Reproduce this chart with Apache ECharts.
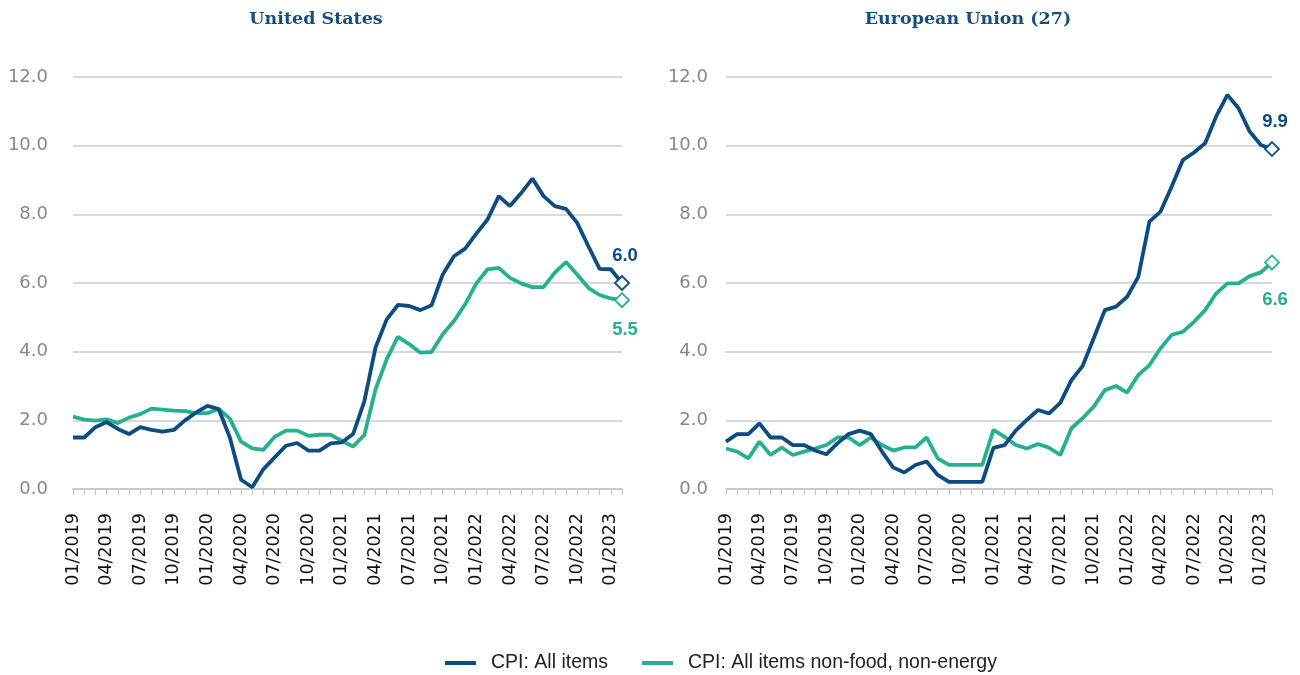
<!DOCTYPE html>
<html>
<head>
<meta charset="utf-8">
<title>CPI: United States vs European Union</title>
<script src="https://cdn.jsdelivr.net/npm/echarts@6/dist/echarts.min.js"></script>
<style>
  html, body { margin: 0; padding: 0; background: #fff; }
  #chart { width: 1300px; height: 675px; }
</style>
</head>
<body>
<div id="chart"></div>
<script>
// months 01/2019 .. 02/2023
var months = [
    '01/2019', '02/2019', '03/2019', '04/2019', '05/2019', '06/2019', '07/2019', '08/2019', '09/2019', '10/2019', '11/2019', '12/2019',
    '01/2020', '02/2020', '03/2020', '04/2020', '05/2020', '06/2020', '07/2020', '08/2020', '09/2020', '10/2020', '11/2020', '12/2020',
    '01/2021', '02/2021', '03/2021', '04/2021', '05/2021', '06/2021', '07/2021', '08/2021', '09/2021', '10/2021', '11/2021', '12/2021',
    '01/2022', '02/2022', '03/2022', '04/2022', '05/2022', '06/2022', '07/2022', '08/2022', '09/2022', '10/2022', '11/2022', '12/2022',
    '01/2023', '02/2023'
];

var usAll = [
    1.5, 1.5, 1.8, 1.95, 1.75, 1.6, 1.8, 1.72, 1.67, 1.72, 2.0, 2.23,
    2.42, 2.33, 1.5, 0.27, 0.05, 0.58, 0.92, 1.26, 1.34, 1.12, 1.12, 1.33,
    1.36, 1.6, 2.55, 4.12, 4.94, 5.36, 5.33, 5.21, 5.35, 6.25, 6.78, 7.0,
    7.44, 7.85, 8.53, 8.24, 8.62, 9.04, 8.53, 8.24, 8.16, 7.75, 7.07, 6.41,
    6.4, 6.0
];
var usCore = [
    2.11, 2.02, 1.99, 2.03, 1.92, 2.08, 2.18, 2.34, 2.31, 2.28, 2.27, 2.21,
    2.21, 2.33, 2.05, 1.38, 1.18, 1.14, 1.52, 1.7, 1.7, 1.55, 1.58, 1.58,
    1.4, 1.24, 1.57, 2.9, 3.78, 4.43, 4.22, 3.97, 3.99, 4.51, 4.89, 5.38,
    5.99, 6.4, 6.44, 6.15, 5.99, 5.88, 5.88, 6.3, 6.61, 6.25, 5.86, 5.65,
    5.55, 5.5
];

var euAll = [
    1.38, 1.6, 1.6, 1.91, 1.5, 1.5, 1.28, 1.28, 1.12, 1.01, 1.33, 1.6,
    1.7, 1.6, 1.09, 0.63, 0.48, 0.7, 0.8, 0.41, 0.21, 0.21, 0.21, 0.21,
    1.2, 1.28, 1.7, 2.01, 2.3, 2.2, 2.51, 3.17, 3.58, 4.39, 5.21, 5.31,
    5.6, 6.18, 7.79, 8.08, 8.81, 9.58, 9.8, 10.07, 10.86, 11.48, 11.09, 10.41,
    10.02, 9.9
];
var euCore = [
    1.18, 1.09, 0.89, 1.38, 0.99, 1.21, 0.99, 1.09, 1.18, 1.28, 1.5, 1.5,
    1.28, 1.5, 1.28, 1.12, 1.21, 1.21, 1.5, 0.89, 0.7, 0.7, 0.7, 0.7,
    1.72, 1.52, 1.28, 1.18, 1.31, 1.2, 0.99, 1.77, 2.06, 2.4, 2.88, 3.0,
    2.81, 3.32, 3.61, 4.1, 4.49, 4.58, 4.87, 5.21, 5.7, 5.99, 5.99, 6.2,
    6.31, 6.6
];

var panelTitles = ['United States', 'European Union (27)'];
var seriesNames = ['CPI: All items', 'CPI: All items non-food, non-energy'];

var BLUE = '#0b4c82';
var GREEN = '#25b18d';
var FONT = '"Liberation Sans", Arial, sans-serif';
var WIDE = '"DejaVu Sans", sans-serif';

// only the last point gets a hollow diamond and a value label
function withEndMarker(values, color, labelPos, labelDist) {
    return values.map(function (v, i) {
        if (i < values.length - 1) return v;
        return {
            value: v,
            symbol: 'diamond',
            symbolSize: 14,
            itemStyle: { color: '#fff', borderColor: color, borderWidth: 1.8 },
            label: {
                show: true,
                position: labelPos,
                distance: labelDist,
                offset: [3, 0],
                formatter: function (p) { return p.value.toFixed(1); },
                color: color,
                fontFamily: FONT,
                fontWeight: 'bold',
                fontSize: 18.5
            }
        };
    });
}

function lineSeries(name, values, color, idx, labelPos, labelDist) {
    return {
        name: name,
        type: 'line',
        xAxisIndex: idx,
        yAxisIndex: idx,
        symbol: 'none',
        showSymbol: true,
        smooth: false,
        lineStyle: { color: color, width: 3.8 },
        itemStyle: { color: color },
        emphasis: { disabled: true },
        z: name === seriesNames[0] ? 3 : 2,
        data: withEndMarker(values, color, labelPos, labelDist)
    };
}

function xAxis(idx) {
    return {
        type: 'category',
        gridIndex: idx,
        data: months,
        boundaryGap: false,
        axisLine: { lineStyle: { color: '#c4c4c4', width: 1.5 } },
        axisTick: { show: true, interval: 0, length: 6, lineStyle: { color: '#c4c4c4' } },
        axisLabel: {
            interval: 2,
            rotate: 90,
            margin: 24,
            color: '#111',
            fontFamily: WIDE,
            fontSize: 17.5
        },
        splitLine: { show: false }
    };
}

function yAxis(idx, margin) {
    return {
        type: 'value',
        gridIndex: idx,
        min: 0,
        max: 12,
        interval: 2,
        axisLine: { show: false },
        axisTick: { show: false },
        axisLabel: {
            margin: margin,
            color: '#8c8785',
            fontFamily: WIDE,
            fontSize: 18,
            formatter: function (v) { return v.toFixed(1); }
        },
        splitLine: { lineStyle: { color: '#cdcdcd', width: 1.5 } }
    };
}

var chart = echarts.init(document.getElementById('chart'));

var option = {
    animation: false,
    backgroundColor: '#fff',
    graphic: [
        {
            type: 'text', x: 316, y: 19,
            style: {
                text: panelTitles[0], fill: '#154f7e',
                font: 'bold 17.5px "DejaVu Serif", serif',
                textAlign: 'center', textVerticalAlign: 'middle'
            }
        },
        {
            type: 'text', x: 968, y: 19,
            style: {
                text: panelTitles[1], fill: '#154f7e',
                font: 'bold 17.5px "DejaVu Serif", serif',
                textAlign: 'center', textVerticalAlign: 'middle'
            }
        }
    ],
    legend: {
        top: 648,
        left: 440,
        data: seriesNames,
        icon: 'rect',
        itemWidth: 31,
        itemHeight: 4,
        itemGap: 34,
        textStyle: {
            color: '#222', fontFamily: FONT, fontSize: 19.5,
            padding: [0, 0, 0, 10]
        }
    },
    grid: [
        { left: 73, right: 678, top: 77, bottom: 186 },
        { left: 726, right: 28, top: 77, bottom: 186 }
    ],
    xAxis: [xAxis(0), xAxis(1)],
    yAxis: [yAxis(0, 25), yAxis(1, 18)],
    series: [
        lineSeries(seriesNames[0], usAll, BLUE, 0, 'top', 10),
        lineSeries(seriesNames[1], usCore, GREEN, 0, 'bottom', 12),
        lineSeries(seriesNames[0], euAll, BLUE, 1, 'top', 10),
        lineSeries(seriesNames[1], euCore, GREEN, 1, 'bottom', 20)
    ]
};

chart.setOption(option);
</script>
</body>
</html>
